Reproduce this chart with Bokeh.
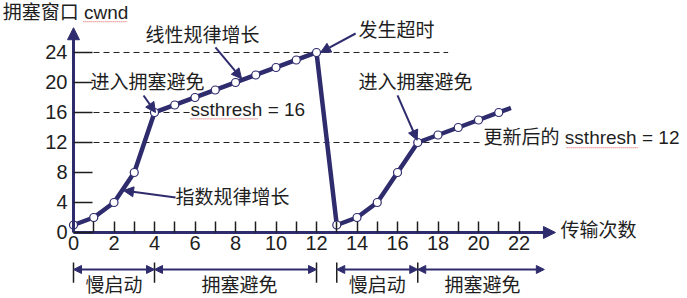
from bokeh.plotting import figure
from bokeh.models import Range1d, FixedTicker, Arrow, NormalHead
from bokeh.embed import file_html
from bokeh.resources import INLINE
from bokeh.core.properties import value

NAVY = "#2f2c6e"
INK = "#1e1e1e"
FONT = "'Liberation Sans', 'Noto Sans CJK SC'"

# ---- data ----
rounds = [0, 1, 2, 3, 4, 5, 6, 7, 8, 9, 10, 11, 12, 13, 14, 15, 16, 17, 18, 19, 20, 21]
cwnd = [1, 2, 4, 8, 16, 17, 18, 19, 20, 21, 22, 23, 24, 1, 2, 4, 8, 12, 13, 14, 15, 16]
tail_round = [21.6]
tail_cwnd = [16.6]

y_ticks = [0, 4, 8, 12, 16, 20, 24]
x_major_ticks = [0, 2, 4, 6, 8, 10, 12, 14, 16, 18, 20, 22]
x_minor_ticks = [1, 3, 5, 7, 9, 11, 13, 15, 17, 19, 21]

# dashed reference levels and where they stop
ref_levels = [24, 16, 12]
ref_ends = [18.5, 5.78, 20.1]

# annotations: text, x, y (left aligned)
note_texts = ["拥塞窗口 cwnd", "线性规律增长", "发生超时", "进入拥塞避免", "ssthresh = 16",
              "进入拥塞避免", "更新后的 ssthresh = 12", "指数规律增长", "传输次数"]
note_x = [-3.5, 3.56, 14.07, 0.84, 5.78, 14.07, 20.25, 5.04, 24.05]
note_y = [29.3, 26.27, 26.93, 20.0, 16.4, 20.0, 12.67, 4.67, 0.27]

# spell-check squiggles under "cwnd" and "ssthresh"
squig_x0 = [0.49, 5.78, 24.35]
squig_x1 = [2.67, 9.14, 27.9]
squig_y = [28.1, 15.15, 11.3]

# pointer arrows: start -> end
ptr_x0 = [7.01, 13.93, 3.46, 16.0, 5.04]
ptr_y0 = [24.67, 26.53, 18.27, 18.27, 4.67]
ptr_x1 = [8.3, 12.2, 4.05, 16.97, 2.47]
ptr_y1 = [20.5, 24.0, 16.0, 12.3, 5.6]

# phases under the axis
phase_names = ["慢启动", "拥塞避免", "慢启动", "拥塞避免"]
phase_start = [0, 4, 13, 17]
phase_end = [4, 12, 17, 23.25]
phase_label_x = [2, 8.2, 15, 20.2]
phase_marks = [0, 4, 12, 13, 17]

p = figure(width=687, height=298,
           x_range=Range1d(-3.605, 30.32), y_range=Range1d(-8.8, 30.93),
           min_border=0, toolbar_location=None, output_backend="svg",
           outline_line_color=None, background_fill_color="white",
           border_fill_color="white")
p.grid.visible = False

# axes placed at the origin
xa = p.xaxis[0]
xa.fixed_location = 0
xa.ticker = FixedTicker(ticks=x_major_ticks, minor_ticks=x_minor_ticks)
xa.bounds = (0, 23.3)
xa.axis_line_color = NAVY
xa.axis_line_width = 3
xa.major_tick_in = 11
xa.major_tick_out = 0
xa.minor_tick_in = 11
xa.minor_tick_out = 0
xa.major_tick_line_color = INK
xa.minor_tick_line_color = INK
xa.major_tick_line_width = 1.5
xa.minor_tick_line_width = 1.5
xa.major_label_text_font = "Liberation Sans"
xa.major_label_text_font_size = "20px"
xa.major_label_text_color = INK
xa.major_label_standoff = 4

ya = p.yaxis[0]
ya.fixed_location = 0
ya.ticker = FixedTicker(ticks=y_ticks, minor_ticks=[])
ya.bounds = (0, 26.6)
ya.axis_line_color = NAVY
ya.axis_line_width = 3
ya.major_tick_in = 19
ya.major_tick_out = 0
ya.minor_tick_in = 0
ya.minor_tick_out = 0
ya.major_tick_line_color = INK
ya.major_tick_line_width = 1.5
ya.major_label_text_font = "Liberation Sans"
ya.major_label_text_font_size = "20px"
ya.major_label_text_color = INK
ya.major_label_standoff = 6

# axis arrow heads
p.add_layout(Arrow(x_start=0, y_start=26.3, x_end=0, y_end=27.3, line_color=NAVY, line_width=3,
                   end=NormalHead(size=12, fill_color=NAVY, line_color=NAVY)))
p.add_layout(Arrow(x_start=22.9, y_start=0, x_end=23.8, y_end=0, line_color=NAVY, line_width=3,
                   end=NormalHead(size=12, fill_color=NAVY, line_color=NAVY)))

# dashed reference lines
p.segment(x0=[0] * len(ref_levels), y0=ref_levels, x1=ref_ends, y1=ref_levels,
          line_color=INK, line_width=1, line_dash="6 4")

# cwnd curve
p.line(rounds + tail_round, cwnd + tail_cwnd, line_color=NAVY, line_width=4.5, line_join="round")
p.scatter(rounds, cwnd, size=8, fill_color="white", line_color=NAVY, line_width=1.2)

# pointer arrows
for a, b, c, d in zip(ptr_x0, ptr_y0, ptr_x1, ptr_y1):
    p.add_layout(Arrow(x_start=a, y_start=b, x_end=c, y_end=d, line_color=NAVY, line_width=2,
                       end=NormalHead(size=10, fill_color=NAVY, line_color=NAVY)))

# annotation texts
p.text(x=note_x, y=note_y, text=note_texts, text_font=value(FONT), text_font_size="19px",
       text_color=INK, text_align="left", text_baseline="middle")
p.segment(x0=squig_x0, y0=squig_y, x1=squig_x1, y1=squig_y,
          line_color="#d9534f", line_width=1, line_dash="1 1")

# phase brackets
p.segment(x0=phase_marks, y0=[-4.0] * len(phase_marks), x1=phase_marks, y1=[-6.7] * len(phase_marks),
          line_color=INK, line_width=1.5)
for s, e in zip(phase_start, phase_end):
    p.add_layout(Arrow(x_start=s, y_start=-4.93, x_end=e, y_end=-4.93, line_color=NAVY, line_width=2,
                       start=NormalHead(size=8, fill_color=NAVY, line_color=NAVY),
                       end=NormalHead(size=8, fill_color=NAVY, line_color=NAVY)))
p.text(x=phase_label_x, y=[-7.07] * len(phase_label_x), text=phase_names, text_font=value(FONT),
       text_font_size="19px", text_color=INK, text_align="center", text_baseline="middle")

open("out.html", "w").write(file_html(p, INLINE))
